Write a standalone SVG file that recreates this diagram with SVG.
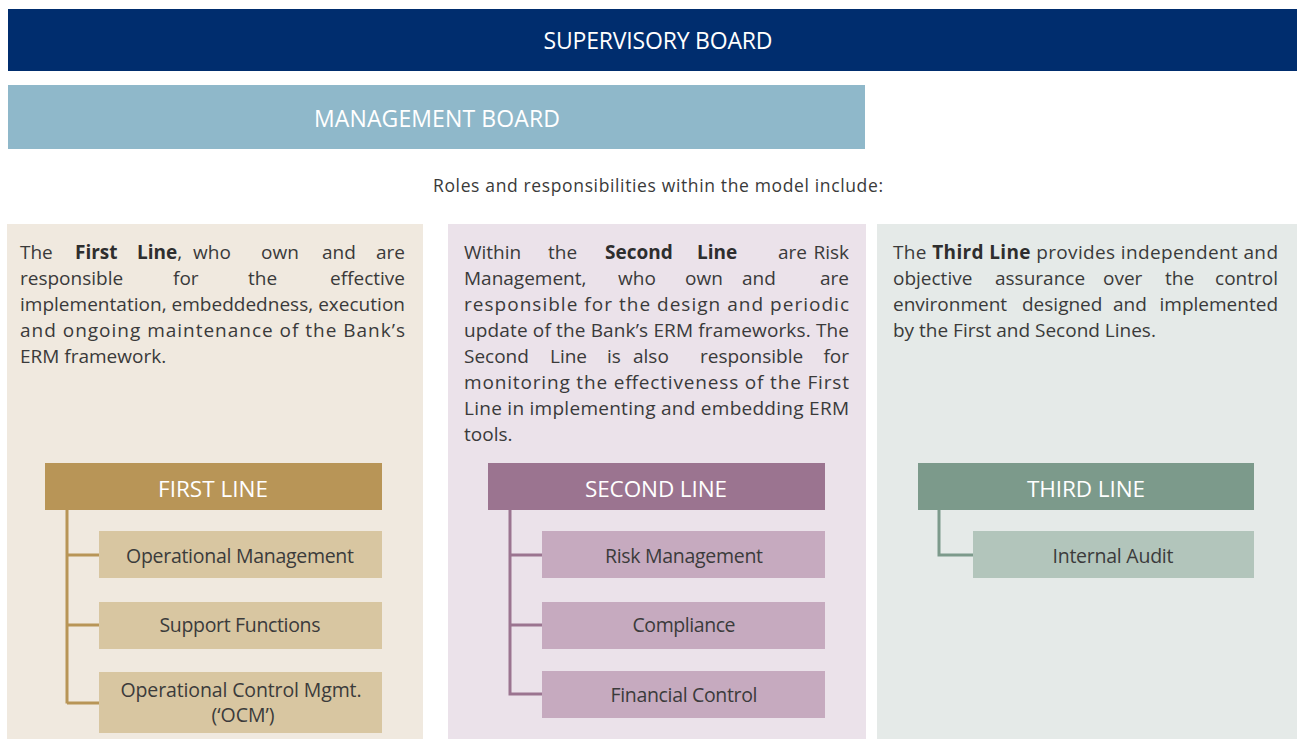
<svg xmlns="http://www.w3.org/2000/svg" width="1297" height="739" viewBox="0 0 1297 739">
  <style>
    text { font-family: "Open Sans", "Liberation Sans", sans-serif; }
    .board { font-size: 23px; fill: #ffffff; text-anchor: middle; }
    .head { font-size: 22.5px; fill: #ffffff; text-anchor: middle; }
    .item { font-size: 19.5px; fill: #3b3b3b; text-anchor: middle; }
    .body { font-size: 19px; fill: #3a3a3a; }
    .intro { font-size: 17.5px; fill: #3a3a3a; text-anchor: middle; }
    .b { font-weight: 700; fill: #2e2e2e; }
    .e { text-anchor: end; }
    .conn { fill: none; stroke-width: 3; }
  </style>

  <rect width="1297" height="739" fill="#ffffff"/>

  <!-- governance bars -->
  <g id="supervisory-board">
    <rect x="8" y="9" width="1289" height="62" fill="#002d6e"/>
    <text class="board" x="658" y="49" textLength="229">SUPERVISORY BOARD</text>
  </g>
  <g id="management-board">
    <rect x="8" y="85" width="857" height="64" fill="#8fb8ca"/>
    <text class="board" x="437" y="127" textLength="246" fill="#f4f8fa">MANAGEMENT BOARD</text>
  </g>

  <text class="intro" x="658" y="192" textLength="450">Roles and responsibilities within the model include:</text>

  <!-- column backgrounds -->
  <rect x="7" y="224" width="416" height="515" fill="#f0e9df"/>
  <rect x="448" y="224" width="418" height="515" fill="#ebe2ea"/>
  <rect x="877" y="224" width="420" height="515" fill="#e5eae8"/>

  <!-- first line description -->
  <g id="first-line-text" class="body">
    <text y="259"><tspan x="20">The</tspan><tspan x="75" class="b">First</tspan><tspan x="137" class="b">Line</tspan>,<tspan x="193">who</tspan><tspan x="261">own</tspan><tspan x="322">and</tspan><tspan x="405" class="e">are</tspan></text>
    <text y="285"><tspan x="20">responsible</tspan><tspan x="173">for</tspan><tspan x="248">the</tspan><tspan x="405" class="e">effective</tspan></text>
    <text x="20" y="311" textLength="385">implementation, embeddedness, execution</text>
    <text x="20" y="337" textLength="385">and ongoing maintenance of the Bank’s</text>
    <text x="20" y="363">ERM framework.</text>
  </g>

  <!-- second line description -->
  <g id="second-line-text" class="body">
    <text y="259"><tspan x="464">Within</tspan><tspan x="548">the</tspan><tspan x="605" class="b">Second</tspan><tspan x="697" class="b">Line</tspan><tspan x="778">are</tspan><tspan x="849" class="e">Risk</tspan></text>
    <text y="285"><tspan x="464">Management,</tspan><tspan x="618">who</tspan><tspan x="685">own</tspan><tspan x="742">and</tspan><tspan x="849" class="e">are</tspan></text>
    <text x="464" y="311" textLength="385">responsible for the design and periodic</text>
    <text x="464" y="337" textLength="385">update of the Bank’s ERM frameworks. The</text>
    <text y="363"><tspan x="464">Second</tspan><tspan x="550">Line</tspan><tspan x="607">is</tspan><tspan x="633">also</tspan><tspan x="700">responsible</tspan><tspan x="849" class="e">for</tspan></text>
    <text x="464" y="389" textLength="385">monitoring the effectiveness of the First</text>
    <text x="464" y="415" textLength="385">Line in implementing and embedding ERM</text>
    <text x="464" y="441">tools.</text>
  </g>

  <!-- third line description -->
  <g id="third-line-text" class="body">
    <text x="893" y="259" textLength="385">The <tspan class="b">Third Line</tspan> provides independent and</text>
    <text y="285"><tspan x="893">objective</tspan><tspan x="995">assurance</tspan><tspan x="1103">over</tspan><tspan x="1165">the</tspan><tspan x="1278" class="e">control</tspan></text>
    <text y="311"><tspan x="893">environment</tspan><tspan x="1022">designed</tspan><tspan x="1113">and</tspan><tspan x="1278" class="e">implemented</tspan></text>
    <text x="893" y="337">by the First and Second Lines.</text>
  </g>

  <!-- tree connectors -->
  <g id="connectors" class="conn">
    <path d="M67 510 V703.5 M67 555 H99 M67 625 H99 M67 703 H99" stroke="#b89557"/>
    <path d="M510 510 V695.5 M510 555 H542 M510 625 H542 M510 694 H542" stroke="#9b7490"/>
    <path d="M939 510 V555 H973" stroke="#7c9a8b"/>
  </g>

  <!-- first line nodes -->
  <g id="first-line">
    <rect x="45" y="463" width="337" height="47" fill="#b89557"/>
    <text class="head" x="213" y="497" textLength="110">FIRST LINE</text>
  </g>
  <g id="operational-management">
    <rect x="99" y="531" width="283" height="47" fill="#d8c6a1"/>
    <text class="item" x="240" y="563" textLength="228">Operational Management</text>
  </g>
  <g id="support-functions">
    <rect x="99" y="602" width="283" height="47" fill="#d8c6a1"/>
    <text class="item" x="240" y="632" textLength="161">Support Functions</text>
  </g>
  <g id="ocm">
    <rect x="99" y="672" width="283" height="61" fill="#d8c6a1"/>
    <text class="item" x="241" y="697" textLength="241">Operational Control Mgmt.</text>
    <text class="item" x="243" y="722">(‘OCM’)</text>
  </g>

  <!-- second line nodes -->
  <g id="second-line">
    <rect x="488" y="463" width="337" height="47" fill="#9b7490"/>
    <text class="head" x="656" y="497" textLength="142">SECOND LINE</text>
  </g>
  <g id="risk-management">
    <rect x="542" y="531" width="283" height="47" fill="#c6aabf"/>
    <text class="item" x="684" y="563" textLength="158">Risk Management</text>
  </g>
  <g id="compliance">
    <rect x="542" y="602" width="283" height="47" fill="#c6aabf"/>
    <text class="item" x="684" y="632" textLength="103">Compliance</text>
  </g>
  <g id="financial-control">
    <rect x="542" y="671" width="283" height="47" fill="#c6aabf"/>
    <text class="item" x="684" y="702" textLength="147">Financial Control</text>
  </g>

  <!-- third line nodes -->
  <g id="third-line">
    <rect x="918" y="463" width="336" height="47" fill="#7c9a8b"/>
    <text class="head" x="1086" y="497" textLength="118">THIRD LINE</text>
  </g>
  <g id="internal-audit">
    <rect x="973" y="531" width="281" height="47" fill="#b2c5bb"/>
    <text class="item" x="1113" y="563" textLength="121">Internal Audit</text>
  </g>
</svg>
